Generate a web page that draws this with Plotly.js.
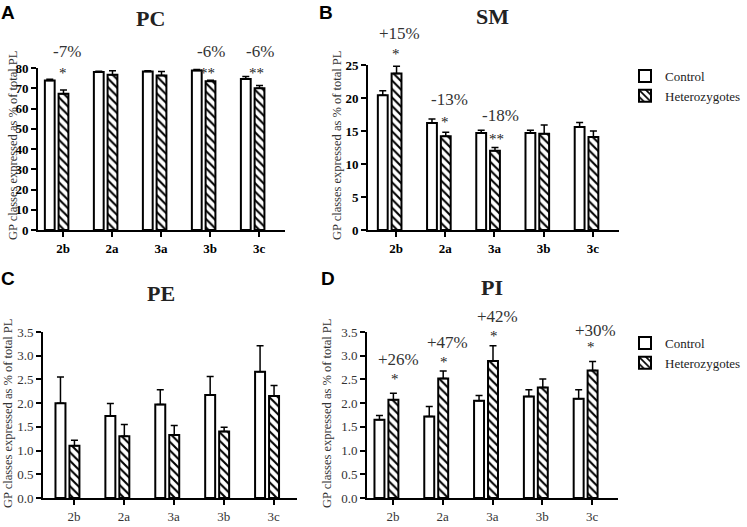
<!DOCTYPE html>
<html>
<head>
<meta charset="utf-8">
<script src="https://cdn.plot.ly/plotly-3.0.1.min.js"></script>
<style>
  html, body { margin: 0; padding: 0; background: #fff; }
  #chart { width: 747px; height: 527px; }
</style>
</head>
<body>
<div id="chart"></div>
<script>
// GP classes as % of total PL, control vs heterozygotes
const categories = ['2b', '2a', '3a', '3b', '3c'];

const pcControl = [73.8, 78.0, 78.3, 78.8, 74.6];
const pcControlErr = [0.6, 0.4, 0.4, 0.4, 1.2];
const pcHetero = [67.3, 76.7, 76.3, 73.5, 70.0];
const pcHeteroErr = [1.8, 2.0, 2.0, 0.5, 1.4];

const smControl = [20.4, 16.2, 14.7, 14.7, 15.6];
const smControlErr = [0.7, 0.6, 0.4, 0.4, 0.7];
const smHetero = [23.7, 14.2, 12.0, 14.6, 14.1];
const smHeteroErr = [1.1, 0.6, 0.5, 1.3, 0.9];

const peControl = [2.00, 1.73, 1.97, 2.17, 2.66];
const peControlErr = [0.55, 0.26, 0.31, 0.39, 0.55];
const peHetero = [1.10, 1.30, 1.33, 1.40, 2.15];
const peHeteroErr = [0.12, 0.25, 0.20, 0.09, 0.22];

const piControl = [1.65, 1.72, 2.05, 2.14, 2.09];
const piControlErr = [0.09, 0.21, 0.11, 0.14, 0.19];
const piHetero = [2.07, 2.52, 2.89, 2.33, 2.69];
const piHeteroErr = [0.14, 0.16, 0.32, 0.18, 0.19];

// change vs control and significance stars, per category
const pcChanges = ['-7%', null, null, '-6%', '-6%'];
const pcStars = ['*', null, null, '**', '**'];
const smChanges = ['+15%', '-13%', '-18%', null, null];
const smStars = ['*', '*', '**', null, null];
const piChanges = ['+26%', '+47%', '+42%', null, '+30%'];
const piStars = ['*', '*', '*', null, '*'];

const SERIF = 'Liberation Serif';
const SANS = 'Liberation Sans';
const W = 747, H = 527;
const px = v => v / W;
const py = v => 1 - v / H;

function barTraces(ctrl, ctrlErr, het, hetErr, ax, legend, showlegend) {
  const noDown = ctrl.map(() => 0);
  const common = {
    type: 'bar',
    x: categories,
    xaxis: 'x' + ax,
    yaxis: 'y' + ax,
    width: 0.2,
    legend: legend,
    showlegend: showlegend,
    hoverinfo: 'skip'
  };
  const control = Object.assign({}, common, {
    y: ctrl,
    name: 'Control',
    offset: -0.37,
    marker: { color: '#ffffff', line: { color: '#000', width: 2 } },
    error_y: { type: 'data', symmetric: false, array: ctrlErr, arrayminus: noDown,
               color: '#000', thickness: 1.5, width: 3.5 }
  });
  const hetero = Object.assign({}, common, {
    y: het,
    name: 'Heterozygotes',
    offset: -0.09,
    marker: {
      color: '#ffffff',
      line: { color: '#000', width: 2 },
      pattern: { shape: '\\', fgcolor: '#000', bgcolor: '#ffffff', size: 6, solidity: 0.35 }
    },
    error_y: { type: 'data', symmetric: false, array: hetErr, arrayminus: noDown,
               color: '#000', thickness: 1.5, width: 3.5 }
  });
  return [control, hetero];
}

function axes(xdom, ydom, xrange, yrange, dtick, bold, fmt) {
  const tickfont = { family: SERIF, size: 13, color: bold ? '#000' : '#333', weight: bold ? 'bold' : 'normal' };
  const base = {
    showline: true, linecolor: '#000', linewidth: 2,
    ticks: 'outside', ticklen: 5, tickwidth: 2, tickcolor: '#000',
    showgrid: false, zeroline: false, fixedrange: true, tickfont: tickfont
  };
  return {
    x: Object.assign({}, base, { domain: xdom, range: xrange, type: 'category' }),
    y: Object.assign({}, base, { domain: ydom, range: yrange, dtick: dtick, tickformat: fmt })
  };
}

const data = [].concat(
  barTraces(pcControl, pcControlErr, pcHetero, pcHeteroErr, '', 'legend', false),
  barTraces(smControl, smControlErr, smHetero, smHeteroErr, '2', 'legend', true),
  barTraces(peControl, peControlErr, peHetero, peHeteroErr, '3', 'legend2', false),
  barTraces(piControl, piControlErr, piHetero, piHeteroErr, '4', 'legend2', true)
);

const aA = axes([px(38), px(285)], [py(230), py(68)], [-0.51, 4.53], [0, 80], 10, true, '');
const aB = axes([px(368), px(619)], [py(230), py(65)], [-0.57, 4.53], [0, 25], 5, true, '');
const aC = axes([px(43), px(297)], [py(498), py(332)], [-0.62, 4.47], [0, 3.5], 0.5, false, '.1f');
const aD = axes([px(367), px(618)], [py(498), py(332)], [-0.52, 4.52], [0, 3.5], 0.5, false, '.1f');

const annotations = [];

// labels sit above the plot area, so place them in axis-domain units
function sigMarks(changes, stars, ax, ymax, labelY, starY, shift) {
  const yref = 'y' + ax + ' domain';
  changes.forEach((txt, i) => {
    if (txt) {
      annotations.push({ xref: 'x' + ax, yref: yref, x: i + shift[i], y: labelY[i] / ymax, text: txt,
        xanchor: 'center', yanchor: 'middle', showarrow: false,
        font: { family: SERIF, size: 17, color: '#333' } });
    }
    if (stars[i]) {
      annotations.push({ xref: 'x' + ax, yref: yref, x: i + shift[i] - 0.08, y: starY[i] / ymax, text: stars[i],
        xanchor: 'center', yanchor: 'middle', showarrow: false,
        font: { family: SERIF, size: 15, color: '#222' } });
    }
  });
}

sigMarks(pcChanges, pcStars, '', 80, [88, 0, 0, 88, 88], [77.5, 0, 0, 77.5, 77.5], [0.08, 0, 0, 0.02, 0.02]);
sigMarks(smChanges, smStars, '2', 25, [29.8, 19.7, 17.3, 0, 0], [26.6, 16.4, 13.8, 0, 0], [0.08, 0.08, 0.12, 0, 0]);
sigMarks(piChanges, piStars, '4', 3.5, [2.91, 3.27, 3.82, 0, 3.54], [2.5, 2.86, 3.41, 0, 3.18], [0.12, 0.1, 0.1, 0, 0.06]);

const titles = [
  ['PC', 150, 18], ['SM', 492, 16], ['PE', 161, 293], ['PI', 492, 287]
];
titles.forEach(([t, x, y]) => annotations.push({ xref: 'paper', yref: 'paper', x: px(x), y: py(y),
  xanchor: 'center', yanchor: 'middle',
  text: '<b>' + t + '</b>', showarrow: false, font: { family: SERIF, size: 22, color: '#222' } }));

const letters = [['A', 8, 12], ['B', 326, 12], ['C', 8, 278], ['D', 328, 278]];
letters.forEach(([t, x, y]) => annotations.push({ xref: 'paper', yref: 'paper', x: px(x), y: py(y),
  xanchor: 'center', yanchor: 'middle',
  text: '<b>' + t + '</b>', showarrow: false, font: { family: SANS, size: 19, color: '#000' } }));

const yTitle = 'GP classes expressed as % of total PL';
[[13, 146], [337, 146], [8, 414], [327, 414]].forEach(([x, y]) => annotations.push({
  xref: 'paper', yref: 'paper', x: px(x), y: py(y), text: yTitle, textangle: -90,
  xanchor: 'center', yanchor: 'middle',
  showarrow: false, font: { family: SERIF, size: 12.5, color: '#333' } }));

const legendStyle = {
  xanchor: 'left', yanchor: 'top', bgcolor: 'rgba(0,0,0,0)',
  font: { family: SERIF, size: 13, color: '#222' }, tracegroupgap: 0, itemwidth: 30
};

const layout = {
  width: W,
  height: 527,
  margin: { l: 0, r: 0, t: 0, b: 0 },
  font: { family: SERIF, color: '#222' },
  paper_bgcolor: '#ffffff',
  plot_bgcolor: '#ffffff',
  barmode: 'overlay',
  showlegend: true,
  xaxis: Object.assign(aA.x, { anchor: 'y' }),
  yaxis: Object.assign(aA.y, { anchor: 'x' }),
  xaxis2: Object.assign(aB.x, { anchor: 'y2' }),
  yaxis2: Object.assign(aB.y, { anchor: 'x2' }),
  xaxis3: Object.assign(aC.x, { anchor: 'y3' }),
  yaxis3: Object.assign(aC.y, { anchor: 'x3' }),
  xaxis4: Object.assign(aD.x, { anchor: 'y4' }),
  yaxis4: Object.assign(aD.y, { anchor: 'x4' }),
  legend: Object.assign({ x: px(625), y: py(61) }, legendStyle),
  legend2: Object.assign({ x: px(625), y: py(328) }, legendStyle),
  annotations: annotations
};

Plotly.newPlot('chart', data, layout, { displayModeBar: false, staticPlot: true });
</script>
</body>
</html>
